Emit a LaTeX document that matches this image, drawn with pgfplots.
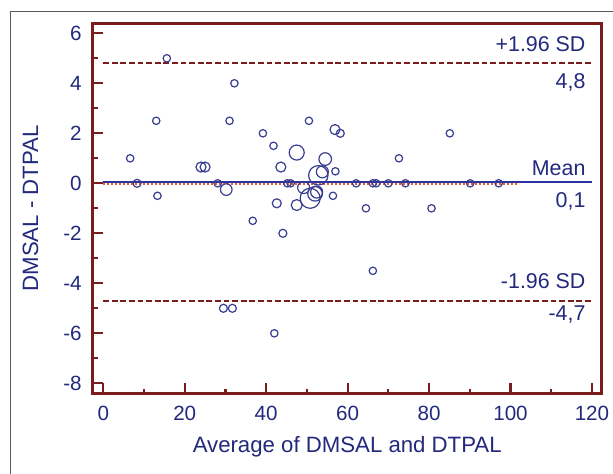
\documentclass[border=0pt]{standalone}
\usepackage{pgfplots}
\pgfplotsset{compat=1.18}
\usepackage{pgfplotstable}
\usepackage{fontspec}
\setmainfont{Liberation Sans}
\definecolor{frame}{HTML}{7A1C1C}
\definecolor{navy}{HTML}{23297C}
\definecolor{circ}{HTML}{3A3E90}
\definecolor{meanc}{HTML}{2C33A0}
\definecolor{dotc}{HTML}{E0603A}
\pgfplotstableread{
x y r
15.6 5.0 1.85
32.2 4.0 1.85
13.0 2.5 1.85
31.0 2.5 1.85
50.5 2.5 1.85
39.2 2.0 1.85
56.9 2.15 2.5
58.2 2.0 2.0
85.1 2.0 1.85
41.8 1.5 1.85
6.6 1.0 1.85
47.5 1.23 3.75
54.5 0.97 3.15
72.6 1.0 1.85
24.0 0.65 2.5
25.0 0.65 2.5
43.6 0.65 2.5
53.8 0.46 3.0
57.0 0.48 1.85
52.8 0.32 4.85
8.3 0.0 2.0
28.1 0.0 1.85
45.2 0.0 1.85
46.0 0.0 1.85
62.1 0.0 1.85
66.2 0.0 1.85
67.0 0.0 1.85
70.0 0.0 1.85
74.2 0.0 1.85
90.1 0.0 1.85
97.1 0.0 1.85
13.3 -0.5 1.85
30.2 -0.25 2.9
49.2 -0.17 3.0
50.8 -0.6 5.0
52.0 -0.42 3.65
52.4 -0.35 3.0
56.4 -0.5 1.85
47.5 -0.87 2.75
42.6 -0.8 2.25
64.5 -1.0 1.85
80.6 -1.0 1.85
36.7 -1.5 1.85
44.1 -2.0 2.0
29.5 -5.0 2.0
31.7 -5.0 2.0
42.0 -6.0 1.85
66.2 -3.5 1.85
}\datatable
\begin{document}
\begin{tikzpicture}
\useasboundingbox (0,0) rectangle (306.5pt,236.5pt);
\fill[white] (0,0) rectangle (306.5pt,236.5pt);
\draw[gray!70!black, line width=0.5pt] (5pt,-10pt) -- (5pt,231pt) -- (320pt,231pt);
\begin{axis}[
  scale only axis,
  width=254.5pt, height=185pt,
  at={(46.35pt,39.85pt)}, anchor=south west,
  xmin=-2.6, xmax=122.4, ymin=-8.4, ymax=6.4,
  xtick={0,20,...,120}, ytick={-8,-6,...,6},
  minor x tick num=1, minor y tick num=1,
  xtick pos=bottom, ytick pos=left,
  tick align=inside,
  major tick length=5pt, minor tick length=2.4pt,
  every tick/.style={frame, line width=1.1pt},
  axis line style={frame, line width=1.3pt},
  /pgf/number format/assume math mode=true,
  ticklabel style={font=\fontsize{10.3}{12}\selectfont, text=navy},
  xticklabel style={yshift=-3.0pt},
  yticklabel style={xshift=-2pt},
  label style={font=\fontsize{11.1}{13}\selectfont, text=navy},
  xlabel={Average of DMSAL and DTPAL},
  ylabel={DMSAL - DTPAL},
  xlabel style={at={(axis description cs:0.5,-0.159)}, anchor=base},
  ylabel style={at={(axis description cs:-0.122,0.5)}, anchor=center},
  clip=false,
]
\addplot[dotc, densely dotted, line width=1pt] coordinates {(0,-0.04) (102,-0.04)};
\addplot[meanc, line width=1pt] coordinates {(0,0.06) (120,0.06)};
\addplot[frame, line width=1.15pt, dash pattern=on 2.9pt off 1.4pt] coordinates {(0,4.82) (120,4.82)};
\addplot[frame, line width=1.15pt, dash pattern=on 2.9pt off 1.4pt] coordinates {(0,-4.71) (120,-4.71)};
\addplot[only marks, mark=o, circ, line width=0.6pt,
  visualization depends on={\thisrow{r} \as \rr},
  scatter, scatter/use mapped color={draw=circ},
  scatter/@pre marker code/.append style={/tikz/mark size=\rr pt}]
  table[x=x, y=y] {\datatable};
\begin{scope}[every node/.style={text=navy, font=\fontsize{10.7}{12}\selectfont, inner sep=0pt}]
\node[anchor=base east] at (axis cs:118.5,5.28) {+1.96 SD};
\node[anchor=base east] at (axis cs:118.5,3.79) {4,8};
\node[anchor=base east] at (axis cs:118.5,0.3) {Mean};
\node[anchor=base east] at (axis cs:118.5,-0.97) {0,1};
\node[anchor=base east] at (axis cs:118.5,-4.2) {-1.96 SD};
\node[anchor=base east] at (axis cs:118.5,-5.47) {-4,7};
\end{scope}
\end{axis}
\end{tikzpicture}
\end{document}
